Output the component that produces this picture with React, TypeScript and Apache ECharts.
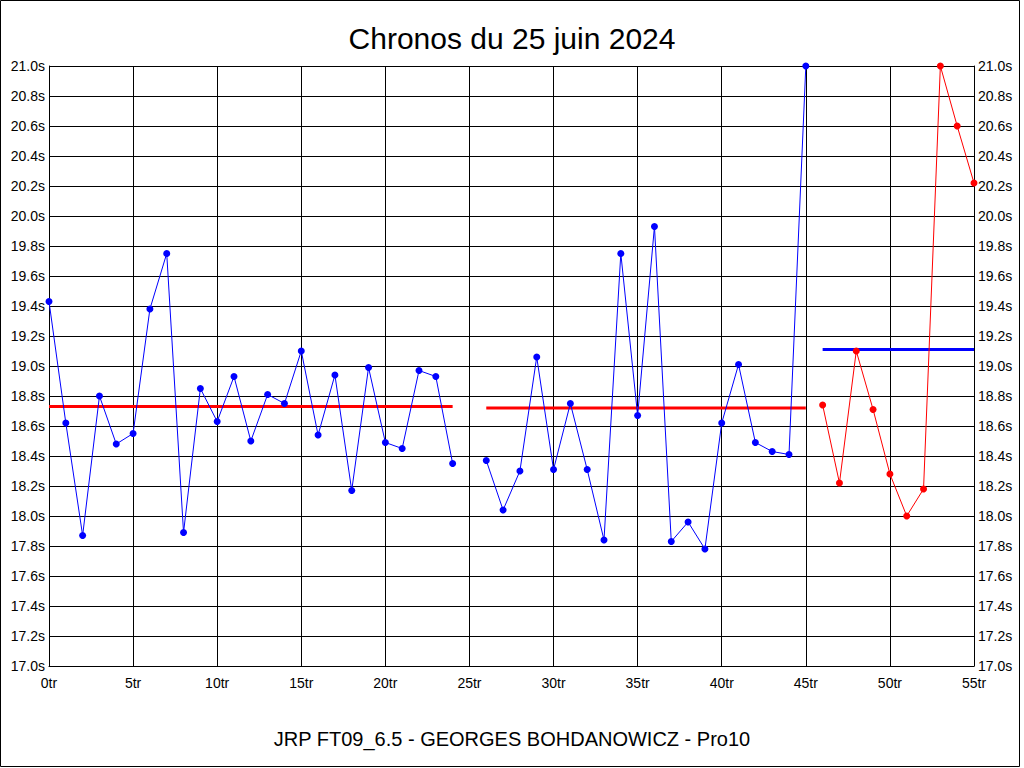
import React, { useEffect, useRef } from "react";
import * as echarts from "echarts";

const TITLE = "Chronos du 25 juin 2024";
const SUBTITLE = "JRP FT09_6.5 - GEORGES BOHDANOWICZ - Pro10";

// Lap times (seconds); each session starts at the given lap index
const session1Start = 0;
const session1 = [
  19.43, 18.62, 17.87, 18.8, 18.48, 18.55, 19.38, 19.75, 17.89, 18.85,
  18.63, 18.93, 18.5, 18.81, 18.75, 19.1, 18.54, 18.94, 18.17, 18.99,
  18.49, 18.45, 18.97, 18.93, 18.35,
];
const session2Start = 26;
const session2 = [
  18.37, 18.04, 18.3, 19.06, 18.31, 18.75, 18.31, 17.84, 19.75, 18.67,
  19.93, 17.83, 17.96, 17.78, 18.62, 19.01, 18.49, 18.43, 18.41, 21.0,
];
const session3Start = 46;
const session3 = [18.74, 18.22, 19.1, 18.71, 18.28, 18.0, 18.18, 21.0, 20.6, 20.22];

// Mean lines: [startLap, endLap, value]
const meanStarts = [0, 26, 46];
const meanEnds = [24, 45, 55];
const meanValues = [18.73, 18.72, 19.11];

const X_MIN = 0;
const X_MAX = 55;
const X_STEP = 5;
const Y_MIN = 17.0;
const Y_MAX = 21.0;
const Y_STEP = 0.2;

const BLUE = "#0000ff";
const RED = "#ff0000";
const FONT = "'Liberation Sans', Arial, sans-serif";

function toPoints(start: number, vals: number[]) {
  return vals.map((v, i) => [start + i, v]);
}

export default function App() {
  const ref = useRef<HTMLDivElement>(null);
  useEffect(() => {
    if (!ref.current) return;
    const chart = echarts.init(ref.current, undefined, { renderer: "svg" });
    const lapSeries = (data: number[][], color: string) => ({
      type: "line",
      data,
      yAxisIndex: 0,
      symbol: "circle",
      symbolSize: 7,
      showSymbol: true,
      clip: false,
      lineStyle: { color, width: 1 },
      itemStyle: { color, borderWidth: 0 },
      z: 3,
    });
    const meanSeries = meanValues.map((v, i) => ({
      type: "line",
      data: [
        [meanStarts[i], v],
        [meanEnds[i], v],
      ],
      yAxisIndex: 0,
      symbol: "none",
      lineStyle: { color: i === 2 ? BLUE : RED, width: 3 },
      z: 2,
    }));
    const yLabel = (v: number) => v.toFixed(1) + "s";
    const yAxisCommon = {
      type: "value",
      min: Y_MIN,
      max: Y_MAX,
      interval: Y_STEP,
      axisLine: { show: true, lineStyle: { color: "#000", width: 1 } },
      axisTick: { show: false },
      axisLabel: {
        color: "#000",
        fontFamily: FONT,
        fontSize: 14,
        formatter: yLabel,
        margin: 4,
      },
    };
    chart.setOption({
      animation: false,
      backgroundColor: "#fff",
      textStyle: { fontFamily: FONT },
      title: [
        {
          text: TITLE,
          left: "center",
          top: 18,
          textStyle: { fontFamily: FONT, fontSize: 30, fontWeight: "normal", color: "#000" },
        },
        {
          text: SUBTITLE,
          left: "center",
          top: 724,
          textStyle: { fontFamily: FONT, fontSize: 20, fontWeight: "normal", color: "#000" },
        },
      ],
      graphic: [
        {
          type: "rect",
          shape: { x: 0.5, y: 0.5, width: 1019, height: 766 },
          style: { fill: "none", stroke: "#000", lineWidth: 1 },
          silent: true,
        },
      ],
      grid: { left: 49, right: 50, top: 66, bottom: 102, containLabel: false },
      xAxis: {
        type: "value",
        min: X_MIN,
        max: X_MAX,
        interval: X_STEP,
        axisLine: { show: true, onZero: false, lineStyle: { color: "#000", width: 1 } },
        axisTick: { show: false },
        splitLine: { show: true, lineStyle: { color: "#000", width: 1 } },
        axisLabel: {
          color: "#000",
          fontFamily: FONT,
          fontSize: 14,
          margin: 10,
          formatter: (v: number) => v + "tr",
        },
      },
      yAxis: [
        {
          ...yAxisCommon,
          position: "left",
          splitLine: { show: true, lineStyle: { color: "#000", width: 1 } },
        },
        {
          ...yAxisCommon,
          position: "right",
          splitLine: { show: false },
        },
      ],
      series: [
        ...meanSeries,
        lapSeries(toPoints(session1Start, session1), BLUE),
        lapSeries(toPoints(session2Start, session2), BLUE),
        lapSeries(toPoints(session3Start, session3), RED),
        { type: "line", yAxisIndex: 1, data: [] },
      ],
    });
    return () => chart.dispose();
  }, []);
  return (
    <div
      ref={ref}
      style={{ position: "absolute", left: 0, top: 0, width: 1024, height: 768 }}
    />
  );
}
